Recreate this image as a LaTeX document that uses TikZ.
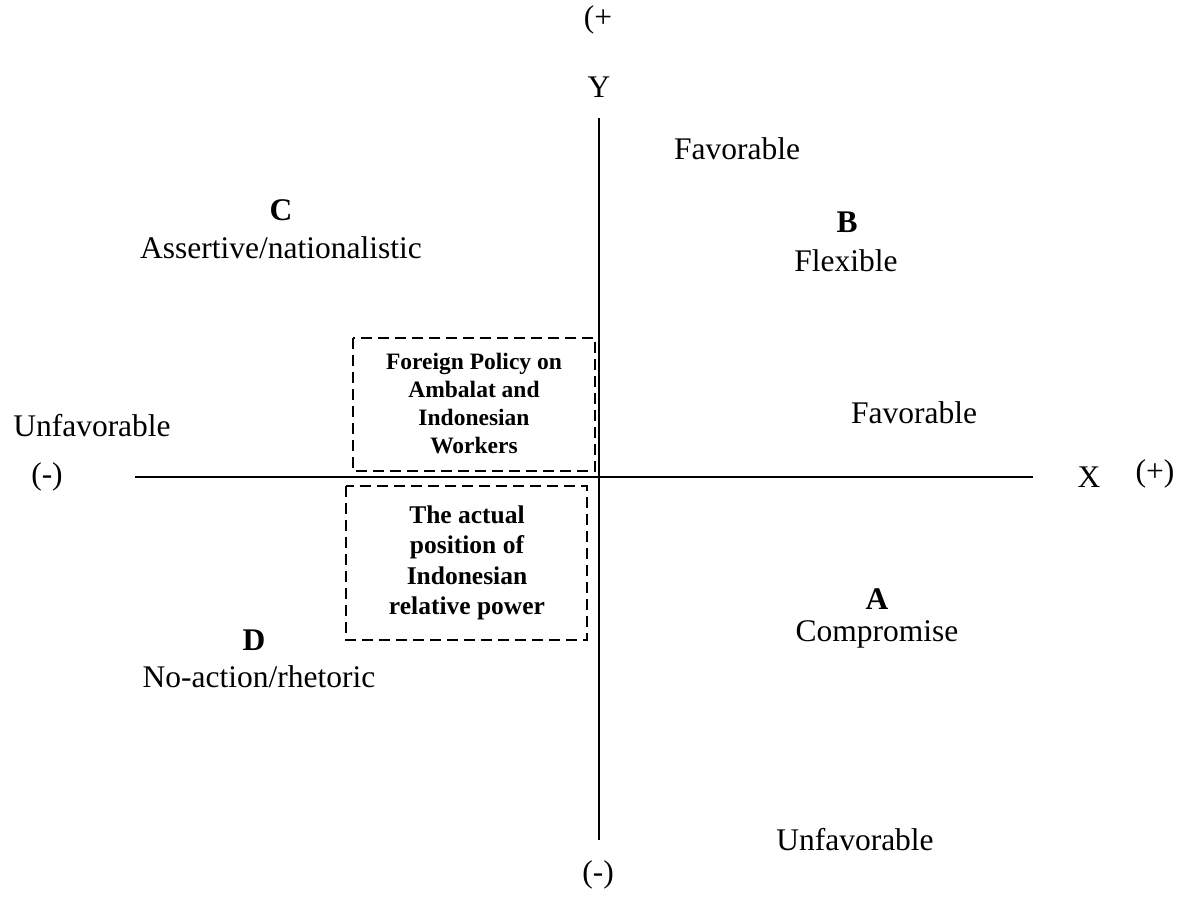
\documentclass[tikz,border=0pt]{standalone}
\usepackage{fontspec}
\setmainfont{Liberation Serif}
\begin{document}
\begin{tikzpicture}[x=1pt,y=-1pt,
  lbl/.style={inner sep=0pt,font=\fontsize{31.5}{36}\selectfont},
  bl/.style={inner sep=0pt,font=\fontsize{31.5}{36}\selectfont\bfseries},
  axis/.style={line width=1.6pt},
  dbox/.style={draw,dashed,line width=1.3pt,dash pattern=on 11pt off 6pt},
  boxtxt/.style={inner sep=0pt,align=center}]
\useasboundingbox (0,0) rectangle (1189,906);
% axes
\coordinate (ytop) at (599,118);
\coordinate (ybot) at (599,840);
\coordinate (xl) at (135,477);
\coordinate (xr) at (1033,477);
\draw[axis] (ytop) -- (ybot);
\draw[axis] (xl) -- (xr);
% dashed boxes
\draw[dbox] (353,338) rectangle (595,471);
\draw[dbox] (346,486) rectangle (587,640);
\node[boxtxt,font=\fontsize{23.5}{28}\selectfont\bfseries] (fp) at (474,404) {Foreign Policy on\\Ambalat and\\Indonesian\\Workers};
\node[boxtxt,font=\fontsize{25.5}{30.5}\selectfont\bfseries] (ap) at (467,563) {The actual\\position of\\Indonesian\\relative power};
% labels
\node[lbl] (yplus) at (598,20) {(+};
\node[lbl] (ylab) at (599,87) {Y};
\node[lbl] (fav1) at (737,149) {Favorable};
\node[bl] (B) at (847,222) {B};
\node[lbl] (flex) at (846,261) {Flexible};
\node[bl] (C) at (281,210) {C};
\node[lbl] (assert) at (281,248) {Assertive/nationalistic};
\node[lbl] (unfav1) at (92,426) {Unfavorable};
\node[lbl] (xminus) at (47,477) {(-)};
\node[lbl] (fav2) at (914,413) {Favorable};
\node[lbl] (xlab) at (1089,477) {X};
\node[lbl] (xplus) at (1155,474) {(+)};
\node[bl] (A) at (877,599) {A};
\node[lbl] (comp) at (877,634) {Compromise};
\node[bl] (D) at (254,640) {D};
\node[lbl] (noact) at (259,677) {No-action/rhetoric};
\node[lbl] (unfav2) at (855,840) {Unfavorable};
\node[lbl] (yminus) at (598,875) {(-)};
\end{tikzpicture}
\end{document}
